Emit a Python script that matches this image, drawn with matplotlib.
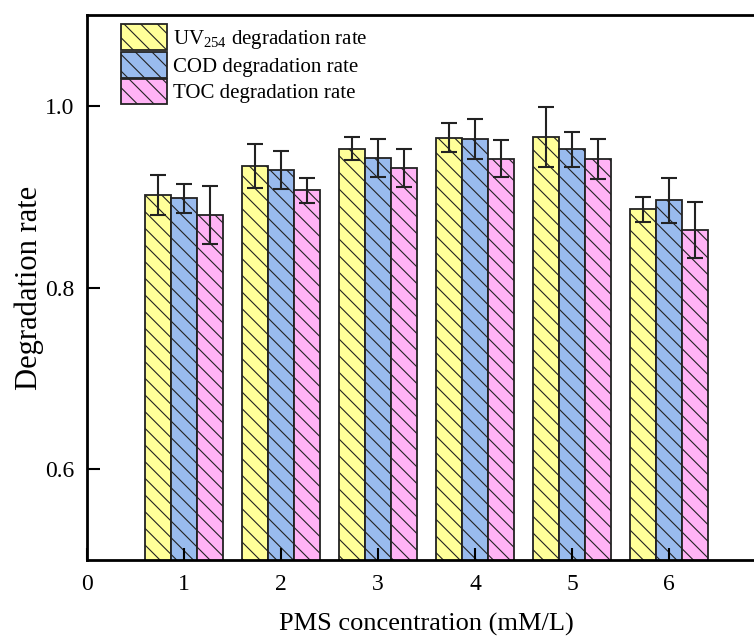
import numpy as np
import matplotlib.pyplot as plt

plt.rcParams['font.family'] = ['Liberation Serif', 'DejaVu Serif']
plt.rcParams['mathtext.fontset'] = 'custom'
plt.rcParams['mathtext.rm'] = 'Liberation Serif'
plt.rcParams['hatch.color'] = '#555555'
plt.rcParams['hatch.linewidth'] = 0.8

conc = [1, 2, 3, 4, 5, 6]

uv254 = [0.902, 0.934, 0.953, 0.965, 0.966, 0.886]
uv254_err = [0.022, 0.024, 0.013, 0.016, 0.033, 0.014]
cod = [0.898, 0.929, 0.943, 0.964, 0.952, 0.896]
cod_err = [0.016, 0.021, 0.021, 0.022, 0.019, 0.025]
toc = [0.880, 0.907, 0.932, 0.942, 0.942, 0.863]
toc_err = [0.032, 0.014, 0.021, 0.020, 0.022, 0.031]

series = [
    (uv254, uv254_err, '#FFFF99', 'UV$_{\\mathrm{254}}$ degradation rate'),
    (cod, cod_err, '#99BBEE', 'COD degradation rate'),
    (toc, toc_err, '#FFB3F5', 'TOC degradation rate'),
]

fig = plt.figure(figsize=(7.54, 6.42), dpi=100)
ax = fig.add_axes([87 / 754, 1 - 560 / 642, 679 / 754, 545 / 642])

w = 0.27
x = np.array(conc)
for i, (vals, errs, col, lab) in enumerate(series):
    ax.bar(x + (i - 1) * w, vals, w, yerr=errs, color=col, edgecolor='#222222',
           linewidth=1.3, hatch='\\\\', label=lab,
           error_kw=dict(ecolor='#222222', elinewidth=1.5, capsize=6, capthick=1.5))

ax.set_xlim(0, 7)
ax.set_ylim(0.5, 1.1)
ax.set_xticks([0, 1, 2, 3, 4, 5, 6])
ax.set_yticks([0.6, 0.8, 1.0])
ax.yaxis.set_major_formatter(plt.FormatStrFormatter('%.1f'))
ax.tick_params(direction='in', length=9, width=1.5, labelsize=17)
ax.tick_params(axis='x', pad=10)
ax.tick_params(axis='y', pad=9)
for s in ['left', 'bottom', 'top']:
    ax.spines[s].set_linewidth(2)
ax.spines['right'].set_visible(False)

ax.set_xlabel('PMS concentration (mM/L)', fontsize=19, labelpad=13)
ax.set_ylabel('Degradation rate', fontsize=22, labelpad=1)

ax.legend(loc='upper left', bbox_to_anchor=(0.022, 1.017), frameon=False,
          fontsize=15, handlelength=2.2, handleheight=1.5, labelspacing=0.05,
          handletextpad=0.3)

fig.savefig('out.png', dpi=100)
